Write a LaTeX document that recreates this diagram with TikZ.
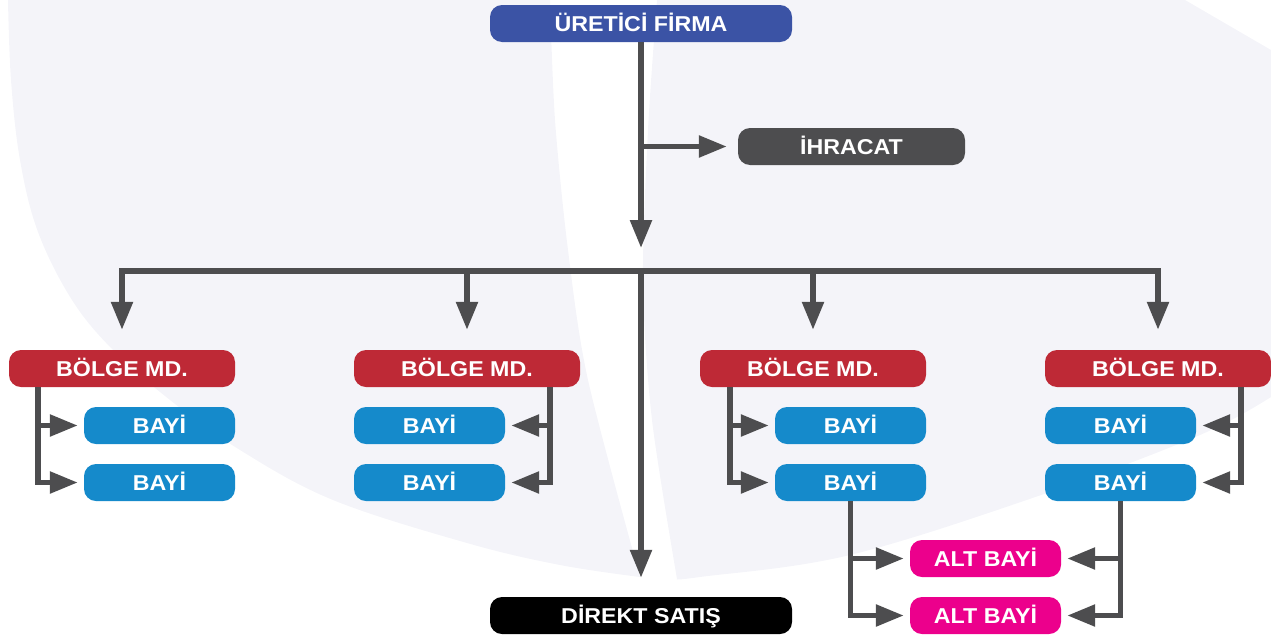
\documentclass[tikz,border=0pt]{standalone}
\usepackage{fontspec}
\setmainfont{Liberation Sans}
\newfontfamily\boxfont{Liberation Sans Bold}[FakeStretch=1.08]
\usetikzlibrary{arrows.meta,calc}
\definecolor{bgl}{HTML}{F4F4F9}
\definecolor{topblue}{HTML}{3B53A5}
\definecolor{dgray}{HTML}{4D4D4F}
\definecolor{bred}{HTML}{BE2936}
\definecolor{bblue}{HTML}{158ACB}
\definecolor{mag}{HTML}{EC008C}
\begin{document}
\begin{tikzpicture}[x=1pt,y=-1pt,
  box/.style={rounded corners=12pt, minimum height=37pt, inner sep=0pt,
    text=white, text height=15pt, text depth=0pt, anchor=center,
    font=\boxfont\fontsize{21.5}{24}\selectfont},
  wide/.style={box, minimum width=302pt},
  mid/.style={box, minimum width=227pt},
  small/.style={box, minimum width=151pt},
  conn/.style={draw=dgray, line width=5.5pt, line join=miter,
    -{Triangle[length=28pt,width=21pt]}},
]
\useasboundingbox (0,0) rectangle (1271,635);
% background shapes
\fill[bgl] plot[smooth, tension=0.6] coordinates {(8,0) (11,80) (20,160) (38,232) (72,300) (113,350) (170,400) (240,450) (333,500) (467,543) (560,565) (640,577)}
  -- plot[smooth, tension=0.5] coordinates {(640,577) (588,380) (568,250) (555,120) (550,0)} -- cycle;
\fill[bgl] (657,0) -- (1185,0) -- (1271,50) -- (1271,397)
  -- plot[smooth, tension=0.6] coordinates {(1271,397) (1200,435) (1047,493) (850,555) (700,577) (677,579)}
  -- plot[smooth, tension=0.5] coordinates {(677,579) (652,420) (643,283) (648,130) (657,0)} -- cycle;
% nodes
\node[wide, fill=topblue] (top) at (641,23.5) {ÜRETİCİ FİRMA};
\node[mid, fill=dgray] (ihr) at (851.5,146.5) {İHRACAT};
\node[mid, fill=bred, minimum width=226pt] (bm1) at (122,368.5) {BÖLGE MD.};
\node[mid, fill=bred, minimum width=226pt] (bm2) at (467,368.5) {BÖLGE MD.};
\node[mid, fill=bred, minimum width=226pt] (bm3) at (813,368.5) {BÖLGE MD.};
\node[mid, fill=bred, minimum width=226pt] (bm4) at (1158,368.5) {BÖLGE MD.};
\node[small, fill=bblue] (b11) at (159.5,425.5) {BAYİ};
\node[small, fill=bblue] (b12) at (159.5,482.5) {BAYİ};
\node[small, fill=bblue] (b21) at (429.5,425.5) {BAYİ};
\node[small, fill=bblue] (b22) at (429.5,482.5) {BAYİ};
\node[small, fill=bblue] (b31) at (850.5,425.5) {BAYİ};
\node[small, fill=bblue] (b32) at (850.5,482.5) {BAYİ};
\node[small, fill=bblue] (b41) at (1120.5,425.5) {BAYİ};
\node[small, fill=bblue] (b42) at (1120.5,482.5) {BAYİ};
\node[small, fill=mag] (a1) at (985.5,558.5) {ALT BAYİ};
\node[small, fill=mag] (a2) at (985.5,615.5) {ALT BAYİ};
\node[wide, fill=black] (ds) at (641,615.5) {DİREKT SATIŞ};
% coordinates
\coordinate (t1) at (641,248);
\coordinate (bus) at (641,271);
% connectors
\draw[conn] (top.south) -- (t1);
\draw[conn, shorten >=11pt] (top.south |- ihr.west) -- (ihr.west);
\draw[conn, shorten >=20pt] (bus) -| (bm1.north);
\draw[conn, shorten >=20pt] (bus) -| (bm2.north);
\draw[conn, shorten >=20pt] (bus) -| (bm3.north);
\draw[conn, shorten >=20pt] (bus) -| (bm4.north);
\draw[conn, shorten >=19pt] (bus) -- (ds.north);
\draw[conn, shorten >=6pt] ($(bm1.south west)+(29,0)$) |- (b11.west);
\draw[conn, shorten >=6pt] ($(bm1.south west)+(29,0)$) |- (b12.west);
\draw[conn, shorten >=6pt] ($(bm2.south east)+(-30,0)$) |- (b21.east);
\draw[conn, shorten >=6pt] ($(bm2.south east)+(-30,0)$) |- (b22.east);
\draw[conn, shorten >=6pt] ($(bm3.south west)+(30,0)$) |- (b31.west);
\draw[conn, shorten >=6pt] ($(bm3.south west)+(30,0)$) |- (b32.west);
\draw[conn, shorten >=6pt] ($(bm4.south east)+(-30,0)$) |- (b41.east);
\draw[conn, shorten >=6pt] ($(bm4.south east)+(-30,0)$) |- (b42.east);
\draw[conn, shorten >=6pt] (b32.south) |- (a1.west);
\draw[conn, shorten >=6pt] (b32.south) |- (a2.west);
\draw[conn, shorten >=6pt] (b42.south) |- (a1.east);
\draw[conn, shorten >=6pt] (b42.south) |- (a2.east);
\end{tikzpicture}
\end{document}
